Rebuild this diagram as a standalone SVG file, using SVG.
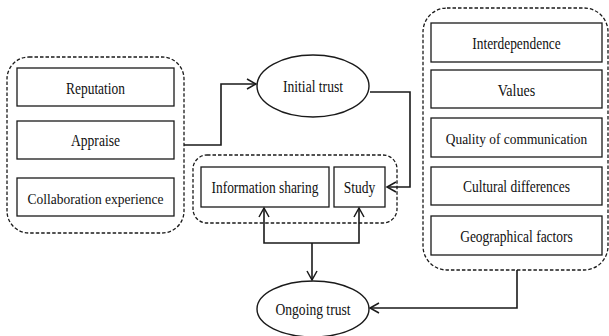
<svg xmlns="http://www.w3.org/2000/svg" width="609" height="336" viewBox="0 0 609 336">
<style>
.box{fill:#fff;stroke:#1a1a1a;stroke-width:1.3}
.grp{fill:none;stroke:#1a1a1a;stroke-width:1.3;stroke-dasharray:3.5 2}
.ell{fill:#fff;stroke:#1a1a1a;stroke-width:1.4}
.con{fill:none;stroke:#1a1a1a;stroke-width:1.6}
text{font-family:"Liberation Serif","Times New Roman",serif;font-size:17px;fill:#111;text-anchor:middle}
</style>
<defs>
<marker id="arr" markerUnits="userSpaceOnUse" markerWidth="12" markerHeight="12" viewBox="0 0 12 12" refX="10" refY="6" orient="auto">
<path d="M1,1 L10,6 L1,11" fill="none" stroke="#1a1a1a" stroke-width="1.5"/>
</marker>
</defs>
<rect width="609" height="336" fill="#fff"/>
<g id="left-group">
<rect class="grp" x="7" y="57" width="177" height="176" rx="22"/>
<g id="reputation"><rect class="box" x="17" y="68" width="157" height="38"/><text x="95.5" y="94" textLength="59" lengthAdjust="spacingAndGlyphs">Reputation</text></g>
<g id="appraise"><rect class="box" x="17" y="121" width="157" height="38"/><text x="95.5" y="146" textLength="49" lengthAdjust="spacingAndGlyphs">Appraise</text></g>
<g id="collaboration"><rect class="box" x="17" y="178" width="157" height="38"/><text x="95.5" y="204" style="font-size:15px" textLength="136" lengthAdjust="spacingAndGlyphs">Collaboration experience</text></g>
</g>
<g id="initial-trust"><ellipse class="ell" cx="313" cy="86" rx="56" ry="31"/><text x="313" y="92" textLength="60" lengthAdjust="spacingAndGlyphs">Initial trust</text></g>
<g id="middle-group">
<rect class="grp" x="193" y="155" width="204" height="68" rx="14"/>
<g id="information-sharing"><rect class="box" x="201" y="167" width="128" height="40"/><text x="265" y="193" textLength="107" lengthAdjust="spacingAndGlyphs">Information sharing</text></g>
<g id="study"><rect class="box" x="334" y="167" width="51" height="40"/><text x="359.5" y="193" textLength="31.5" lengthAdjust="spacingAndGlyphs">Study</text></g>
</g>
<g id="right-group">
<rect class="grp" x="423" y="8" width="185" height="262" rx="24"/>
<g id="interdependence"><rect class="box" x="431" y="23" width="171" height="39"/><text x="516.5" y="49" textLength="88.5" lengthAdjust="spacingAndGlyphs">Interdependence</text></g>
<g id="values"><rect class="box" x="431" y="70" width="171" height="38"/><text x="516.5" y="96" textLength="37.5" lengthAdjust="spacingAndGlyphs">Values</text></g>
<g id="quality"><rect class="box" x="431" y="118" width="171" height="39"/><text x="516.5" y="143.5" style="font-size:15px" textLength="141.5" lengthAdjust="spacingAndGlyphs">Quality of communication</text></g>
<g id="cultural"><rect class="box" x="431" y="167" width="171" height="38"/><text x="516.5" y="192" textLength="107" lengthAdjust="spacingAndGlyphs">Cultural differences</text></g>
<g id="geographical"><rect class="box" x="431" y="216" width="171" height="39"/><text x="516.5" y="242" textLength="112.7" lengthAdjust="spacingAndGlyphs">Geographical factors</text></g>
</g>
<g id="ongoing-trust"><ellipse class="ell" cx="313" cy="309" rx="56" ry="28"/><text x="313" y="315" textLength="75" lengthAdjust="spacingAndGlyphs">Ongoing trust</text></g>
<g id="connectors">
<path class="con" d="M184,145 H221 V84 H256" marker-end="url(#arr)"/>
<path class="con" d="M370,92 H410 V187 H387" marker-end="url(#arr)"/>
<path class="con" d="M312,243 H264 V208" marker-end="url(#arr)"/>
<path class="con" d="M312,243 H359 V208" marker-end="url(#arr)"/>
<path class="con" d="M312,243 V280" marker-end="url(#arr)"/>
<path class="con" d="M517,270 V308 H370" marker-end="url(#arr)"/>
</g>
</svg>
